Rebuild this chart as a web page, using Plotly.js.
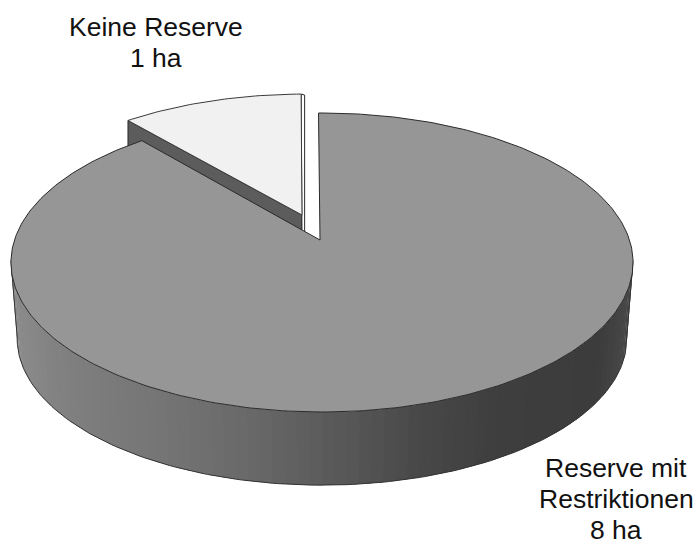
<!DOCTYPE html>
<html>
<head>
<meta charset="utf-8">
<script src="https://cdn.plot.ly/plotly-3.0.1.min.js"></script>
<style>html,body{margin:0;padding:0;background:#fff}</style>
</head>
<body>
<div id="chart" style="width:696px;height:541px"></div>
<script>
// Flächen je Kategorie
const categories = ["Keine Reserve", "Reserve mit|Restriktionen"];
const hectares = [1, 8];
const labelX = [156, 616];
const labelY = [27, 468];
const LINE_GAP = 31;

// Tilted-disc projection, in page units of the hidden axes
const VIEW = {cx: 322, cy: 240, a: 307.5, b: 146.1, k: 0.1505};
const FLOOR = {shift: 76.6, scale: 0.98};
const START_DEG = -0.75;
const EXPLODE = {u: -0.0668, v: 0.1755};
const MAIN_APEX = {u: -0.0065, v: 0};

// Front wall shading: x position against grey level
const wallX = [10, 60, 150, 250, 350, 420, 500, 600, 635];
const wallGrey = [140, 128, 118, 104, 86, 72, 62, 60, 74];

function project(u, v, floor) {
  const w = 1 + VIEW.k * v;
  const s = floor ? FLOOR.scale : 1;
  return [VIEW.cx + s * VIEW.a * u / w,
          VIEW.cy + (floor ? FLOOR.shift : 0) - s * VIEW.b * v / w];
}
function rim(deg, off, floor) {
  const t = deg * Math.PI / 180;
  return project(Math.sin(t) + off.u, Math.cos(t) + off.v, floor);
}
function poly(points, fill, line, width) {
  return {
    type: "scatter", mode: line ? "lines" : "none",
    x: points.map(p => p[0]), y: points.map(p => p[1]),
    fill: fill ? "toself" : "none", fillcolor: fill || undefined,
    line: {color: line || fill, width: width || 0},
    hoverinfo: "skip", showlegend: false
  };
}
function arc(from, to, off, floor) {
  const pts = [], n = Math.ceil(Math.abs(to - from));
  for (let i = 0; i <= n; i++) pts.push(rim(from + (to - from) * i / n, off, floor));
  return pts;
}
function greyAt(x) {
  let i = 0;
  while (i < wallX.length - 2 && x > wallX[i + 1]) i++;
  const f = (x - wallX[i]) / (wallX[i + 1] - wallX[i]);
  const g = Math.round(wallGrey[i] + (wallGrey[i + 1] - wallGrey[i]) * Math.max(0, Math.min(1, f)));
  return `rgb(${g},${g},${g})`;
}

const total = hectares.reduce((s, h) => s + h, 0);
const smallSweep = 360 * hectares[0] / total;
const smallEnd = START_DEG, smallStart = START_DEG - smallSweep;
const ZERO = {u: 0, v: 0};
const traces = [];

// Exploded small slice: its visible cut wall, then the thin right face, then its top
const sApexTop = project(EXPLODE.u, EXPLODE.v, false);
const sApexLow = [sApexTop[0], sApexTop[1] + 60];
const sLeftTop = rim(smallStart, EXPLODE, false);
const sLeftLow = [sLeftTop[0], sLeftTop[1] + 60];
const sRightTop = rim(smallEnd, EXPLODE, false);
traces.push(poly([sLeftTop, sApexTop, sApexLow, sLeftLow, sLeftTop], "#5c5c5c", "#2a2a2a", 1));
traces.push(poly([sRightTop, [sRightTop[0] + 3.5, sRightTop[1] + 1], [sRightTop[0] + 3.5, sApexTop[1] + 20],
                  [sApexTop[0], sApexTop[1] + 20], sRightTop], "#ffffff", "#2a2a2a", 1));
traces.push(poly([sApexTop, ...arc(smallStart, smallEnd, EXPLODE, false), sApexTop], "#f1f1f1", "#3a3a3a", 1));

// Front wall of the large slice, built from narrow shaded bands
const STEP = 2;
for (let d = 98; d < 262; d += STEP) {
  const a = d, b = Math.min(d + STEP + 0.6, 262);
  const band = [rim(a, ZERO, false), rim(b, ZERO, false), rim(b, ZERO, true), rim(a, ZERO, true)];
  band.push(band[0]);
  const mid = rim((a + b) / 2, ZERO, false)[0];
  traces.push(poly(band, greyAt(mid)));
}
traces.push(poly([rim(98, ZERO, false), ...arc(98, 262, ZERO, true), rim(262, ZERO, false)], null, "#333333", 1));

// Top face of the large slice
const mApex = project(MAIN_APEX.u, MAIN_APEX.v, false);
traces.push(poly([mApex, ...arc(START_DEG, 360 + smallStart, ZERO, false), mApex], "#969696", "#2a2a2a", 1));

// One annotation per text line keeps the line spacing tight
const annotations = [];
categories.forEach((c, i) => {
  const lines = c.split("|").concat(`${hectares[i]} ha`);
  lines.forEach((text, j) => annotations.push({
    x: labelX[i], y: labelY[i] + j * LINE_GAP, xref: "x", yref: "y",
    text, showarrow: false, xanchor: "center", yanchor: "middle",
    font: {family: "Liberation Sans, Arial, sans-serif", size: 26.5, color: "#111"}
  }));
});

const hiddenAxis = {visible: false, fixedrange: true};
Plotly.newPlot("chart", traces, {
  width: 696, height: 541,
  margin: {l: 0, r: 0, t: 0, b: 0},
  paper_bgcolor: "#fff", plot_bgcolor: "#fff",
  xaxis: Object.assign({range: [0, 696]}, hiddenAxis),
  yaxis: Object.assign({range: [541, 0]}, hiddenAxis),
  annotations, showlegend: false
}, {displayModeBar: false, staticPlot: true});
</script>
</body>
</html>
